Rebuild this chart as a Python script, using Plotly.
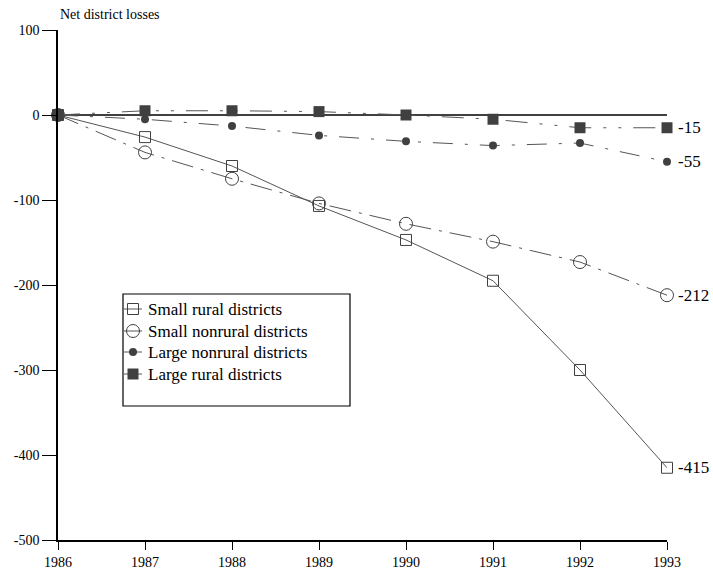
import plotly.graph_objects as go

years = [1986, 1987, 1988, 1989, 1990, 1991, 1992, 1993]
small_rural = [0, -26, -60, -107, -147, -195, -300, -415]
small_nonrural = [0, -44, -75, -104, -128, -149, -173, -212]
large_nonrural = [0, -5, -13, -24, -31, -36, -33, -55]
large_rural = [0, 5, 5, 4, 0, -5, -15, -15]

y_ticks = [100, 0, -100, -200, -300, -400, -500]

ink = "#404040"
serif = "Liberation Serif, Times New Roman, serif"

series = [
    ("Small rural districts", small_rural,
     dict(symbol="square-open", size=11, color=ink, line=dict(width=1, color=ink)),
     dict(color="#555555", width=1, dash="solid")),
    ("Small nonrural districts", small_nonrural,
     dict(symbol="circle-open", size=13, color=ink, line=dict(width=1, color=ink)),
     dict(color="#555555", width=1, dash="22px,8px,3px,8px")),
    ("Large nonrural districts", large_nonrural,
     dict(symbol="circle", size=8, color=ink),
     dict(color="#555555", width=1, dash="20px,12px,3px,12px")),
    ("Large rural districts", large_rural,
     dict(symbol="square", size=11, color=ink),
     dict(color="#555555", width=1, dash="22px,12px,3px,12px,3px,12px")),
]

fig = go.Figure()

# zero reference line
fig.add_shape(type="line", xref="x", yref="y", x0=1986, x1=1993, y0=0, y1=0,
              line=dict(color="black", width=1.5), layer="below")

for name, vals, marker, line in series:
    fig.add_trace(go.Scatter(x=years, y=vals, name=name, mode="lines+markers",
                             marker=marker, line=line, cliponaxis=False, showlegend=False))

# compact hand-built legend on an overlay axis measured in plot-area pixels
leg_left, leg_right, leg_top, leg_bottom = 65, 292, 246, 134
fig.add_shape(type="rect", xref="x2", yref="y2", x0=leg_left, x1=leg_right,
              y0=leg_bottom, y1=leg_top, line=dict(color="black", width=1.2),
              fillcolor="white", layer="below")
row_y = [231, 209, 188, 166]
for (name, _, marker, line), ry in zip(series, row_y):
    fig.add_trace(go.Scatter(x=[66, 84], y=[ry, ry], xaxis="x2", yaxis="y2", mode="lines",
                             line=dict(color="#555555", width=1), showlegend=False,
                             hoverinfo="skip"))
    fig.add_trace(go.Scatter(x=[75], y=[ry], xaxis="x2", yaxis="y2", mode="markers",
                             marker=marker, showlegend=False, hoverinfo="skip"))
    fig.add_annotation(xref="x2", yref="y2", x=88, y=ry, text=name, showarrow=False,
                       xanchor="left", yanchor="middle",
                       font=dict(family=serif, size=17, color="black"))

# end-of-series value labels
end_labels = [(large_rural[-1], "-15"), (large_nonrural[-1], "-55"),
              (small_nonrural[-1], "-212"), (small_rural[-1], "-415")]
for val, txt in end_labels:
    fig.add_annotation(x=years[-1], y=val, text=txt, showarrow=False,
                       xanchor="left", xshift=9, font=dict(family=serif, size=17, color="black"))

fig.add_annotation(xref="paper", yref="paper", x=0, y=1, yshift=6, xanchor="left", yanchor="bottom",
                   text="Net district losses", showarrow=False,
                   font=dict(family=serif, size=14, color="black"))

fig.update_layout(
    width=713, height=571,
    margin=dict(l=58, r=46, t=30, b=31),
    paper_bgcolor="white", plot_bgcolor="white",
    font=dict(family=serif, size=14, color="black"),
    showlegend=False,
    xaxis=dict(range=[1986, 1993], tickvals=years, ticktext=[str(y) for y in years],
               showgrid=False, zeroline=False, showline=True, linecolor="black", linewidth=1.5,
               ticks="outside", ticklen=8, tickcolor="black", tickfont=dict(size=14),
               automargin=False),
    yaxis=dict(range=[-500, 100], tickvals=y_ticks, ticktext=[str(v) for v in y_ticks],
               showgrid=False, zeroline=False, showline=True, linecolor="black", linewidth=1.5,
               ticks="outside", ticklen=14, tickcolor="black", tickfont=dict(size=14),
               automargin=False),
    xaxis2=dict(overlaying="x", range=[0, 609], visible=False, fixedrange=True,
                automargin=False),
    yaxis2=dict(overlaying="y", range=[0, 510], visible=False, fixedrange=True,
                automargin=False),
)

fig.write_html("out.html")
